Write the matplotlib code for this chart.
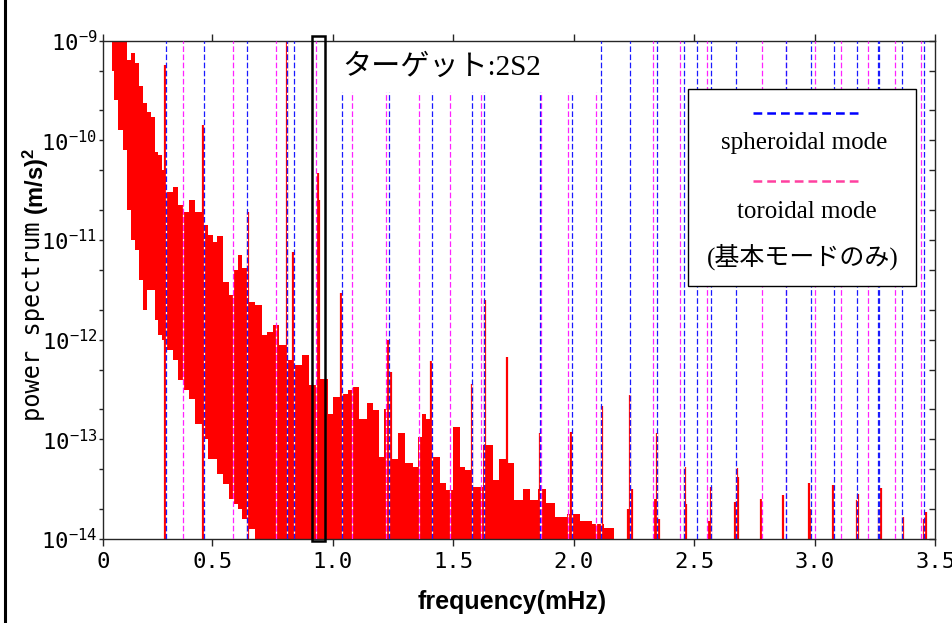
import numpy as np
import matplotlib
matplotlib.use('Agg')
import matplotlib.pyplot as plt
from matplotlib.ticker import LogLocator, NullFormatter
from matplotlib.patches import Rectangle
from matplotlib.lines import Line2D

# background of the spectrum: frequency (mHz), upper / lower edge (log10 power)
floor_f = [0.085, 0.100, 0.120, 0.140, 0.150, 0.172, 0.186, 0.205, 0.221, 0.234,
           0.255, 0.269, 0.283, 0.295, 0.324, 0.345, 0.373, 0.394, 0.414, 0.442,
           0.470, 0.497, 0.504, 0.532, 0.553, 0.581, 0.600, 0.615, 0.630, 0.660,
           0.695, 0.718, 0.738, 0.767, 0.788, 0.820, 0.857, 0.885, 0.920, 0.968,
           0.988, 1.016, 1.050, 1.072, 1.092, 1.127, 1.153, 1.181, 1.202, 1.220,
           1.264, 1.278, 1.320, 1.347, 1.361, 1.375, 1.395, 1.432, 1.459, 1.480,
           1.513, 1.540, 1.556, 1.597, 1.652, 1.681, 1.700, 1.735, 1.770, 1.804,
           1.832, 1.870, 1.902, 1.943, 2.000, 2.050, 2.100, 2.150, 2.180]
floor_hi = [-8.9, -8.9, -8.9, -8.9, -9.19, -9.12, -9.22, -9.45, -9.63, -9.72,
            -9.77, -10.12, -10.15, -10.30, -10.52, -10.47, -10.65, -10.72, -10.60, -10.72,
            -10.85, -10.95, -11.02, -10.96, -11.42, -11.55, -11.30, -11.15, -11.28, -11.62,
            -11.65, -11.95, -11.92, -11.85, -12.05, -12.20, -12.25, -12.15, -12.45, -12.39,
            -12.75, -12.58, -12.55, -12.50, -12.47, -12.80, -12.64, -12.71, -13.18, -12.70,
            -13.20, -12.94, -13.24, -13.28, -12.98, -12.75, -12.80, -13.18, -13.44, -13.51,
            -12.88, -13.28, -13.31, -13.48, -13.06, -13.41, -13.20, -13.24, -13.61, -13.50,
            -13.61, -13.50, -13.64, -13.78, -13.75, -13.82, -13.85, -13.89, -14.20]
floor_lo = [-9.3, -9.6, -9.9, -10.1, -10.7, -11.0, -11.1, -11.4, -11.7, -11.5,
            -11.5, -11.8, -11.95, -12.0, -12.1, -12.2, -12.4, -12.5, -12.6, -12.85,
            -13.0, -13.2, -13.2, -13.35, -13.45, -13.6, -13.65, -13.7, -13.8, -13.9] + [-14.2] * 49

# spectral peaks: frequency (mHz), log10 power
peak_f = [0.303, 0.462, 0.647, 0.808, 0.836, 0.938, 0.944, 1.034, 1.230, 1.243,
          1.407, 1.576, 1.632, 1.721, 1.860, 1.988, 2.116, 2.225, 2.233, 2.240,
          2.338, 2.345, 2.352, 2.460, 2.465, 2.562, 2.568, 2.670, 2.676, 2.682,
          2.777, 2.868, 2.976, 2.980, 3.074, 3.175, 3.180, 3.268, 3.273, 3.365,
          3.455, 3.461]
peak_v = [-9.24, -9.85, -10.72, -8.9, -11.12, -10.33, -10.6, -11.53, -12.00, -12.32,
          -12.21, -12.44, -11.60, -12.17, -12.94, -12.93, -12.67, -13.7, -12.56, -13.5,
          -13.6, -12.94, -13.8, -13.28, -13.65, -13.82, -13.48, -13.63, -13.29, -13.38,
          -13.6, -13.56, -13.44, -13.7, -13.46, -13.61, -13.55, -13.7, -13.49, -13.78,
          -13.8, -13.73]

# fundamental mode frequencies (mHz)
spheroidal = [0.308, 0.466, 0.644, 0.811, 0.838, 1.037, 1.232, 1.413, 1.579, 1.629,
              1.860, 1.993, 2.112, 2.231, 2.345, 2.457, 2.511, 2.569, 2.673, 2.880,
              2.984, 3.080, 3.174, 3.264, 3.268, 3.362, 3.453]
toroidal = [0.377, 0.585, 0.764, 0.930, 1.078, 1.221, 1.357, 1.486, 1.615, 1.862,
            1.975, 2.093, 2.329, 2.441, 2.553, 2.781, 2.882, 3.000, 3.109, 3.221,
            3.333, 3.439]

xtick_vals = [0.046, 0.5, 1.0, 1.5, 2.0, 2.5, 3.0, 3.5]
xtick_labels = ['0', '0.5', '1.0', '1.5', '2.0', '2.5', '3.0', '3.5']
ytick_vals = [1e-14, 1e-13, 1e-12, 1e-11, 1e-10, 1e-9]
ytick_labels = [r'$\mathregular{10^{%d}}$' % e for e in range(-14, -8)]

target = [0.912, 0.969]

W, H = 953, 623
mono = 'DejaVu Sans Mono'
fig = plt.figure(figsize=(W / 100, H / 100), dpi=100)
ax = fig.add_axes([103 / W, 1 - 539 / H, (935.3 - 103) / W, (539 - 40.7) / H])
ax.set_yscale('log')
ax.set_xlim(0.046, 3.5)
ax.set_ylim(1e-14, 1e-9)

# spectrum
ax.fill_between(floor_f, 10 ** np.array(floor_lo), 10 ** np.array(floor_hi),
                step='mid', color='#ff0000', lw=0, zorder=2)
ax.vlines(peak_f, 10 ** -14.2, 10 ** np.array(peak_v), color='#ff0000', lw=1.6, zorder=2)

# mode lines
def top_of(f):
    return 0.897 if 1.0 < f < 2.1 else 1.0

for f in toroidal:
    ax.axvline(f, 0, top_of(f), color='#ff22ff', lw=0.9, ls=(0, (4.5, 2)),
               gapcolor='white', zorder=3)
for f in spheroidal:
    ax.axvline(f, 0, top_of(f), color='#1a1aff', lw=0.9, ls=(0, (4.5, 2)),
               gapcolor='white', zorder=3)

# target box
ax.add_patch(Rectangle((target[0], -0.005), target[1] - target[0], 1.014,
                       transform=ax.get_xaxis_transform(), fill=False,
                       ec='black', lw=1.8, clip_on=False, zorder=6))
ax.text(0.288, 0.947, 'ターゲット:2S2', transform=ax.transAxes, ha='left', va='center',
        family=['Liberation Serif', 'Noto Sans CJK JP'], fontsize=21, zorder=6)

# legend box
ax.add_patch(Rectangle((0.703, 0.508), 0.274, 0.395, transform=ax.transAxes,
                       fc='white', ec='black', lw=1.0, zorder=7))
ax.add_line(Line2D([0.781, 0.908], [0.855, 0.855], transform=ax.transAxes,
                   color='#0000ff', lw=1.8, ls=(0, (3.5, 2.0)), zorder=8))
ax.add_line(Line2D([0.781, 0.908], [0.718, 0.718], transform=ax.transAxes,
                   color='#ff40a0', lw=1.8, ls=(0, (3.5, 2.0)), zorder=8))
leg_font = ['Liberation Serif', 'Noto Sans CJK JP']
ax.text(0.842, 0.795, 'spheroidal mode', transform=ax.transAxes, ha='center', va='center',
        family=leg_font, fontsize=18, zorder=8)
ax.text(0.846, 0.656, 'toroidal mode', transform=ax.transAxes, ha='center', va='center',
        family=leg_font, fontsize=18, zorder=8)
ax.text(0.841, 0.566, '(基本モードのみ)', transform=ax.transAxes, ha='center', va='center',
        family=leg_font, fontsize=18, zorder=8)

# axes styling
for s in ax.spines.values():
    s.set_color('#262626')
    s.set_linewidth(1.0)
ax.set_xticks(xtick_vals)
ax.set_xticklabels(xtick_labels, family=mono, fontsize=16)
ax.set_yticks(ytick_vals)
ax.set_yticklabels(ytick_labels, family=mono, fontsize=16)
ax.yaxis.set_minor_locator(LogLocator(base=10, subs=(2.0, 5.0)))
ax.yaxis.set_minor_formatter(NullFormatter())
ax.tick_params(axis='x', which='both', top=True, bottom=True, direction='out',
               length=5, width=1.0, color='#262626', pad=4)
ax.tick_params(axis='y', which='both', left=True, right=False, direction='out',
               length=3, width=1.0, color='#262626', pad=1)

ax2 = ax.twinx()
ax2.set_yscale('log')
ax2.set_ylim(1e-14, 1e-9)
ax2.yaxis.set_major_locator(LogLocator(base=10, subs=(1.0,)))
ax2.yaxis.set_minor_locator(LogLocator(base=10, subs=(2.0, 5.0)))
ax2.yaxis.set_minor_formatter(NullFormatter())
ax2.tick_params(axis='y', which='both', direction='in', length=4, width=1.0,
                color='#262626', labelright=False)
for s in ax2.spines.values():
    s.set_visible(False)

# axis labels
fig.text(33 / W, 1 - 321 / H, 'power spectrum', rotation=90, ha='center', va='center',
         family=mono, fontsize=17)
fig.text(36 / W, 1 - 181 / H, r'(m/s)$\mathregular{^2}$', rotation=90, ha='center',
         va='center', family='Liberation Sans', weight='bold', fontsize=17)
fig.text(512 / W, 1 - 602 / H, 'frequency(mHz)', ha='center', va='center',
         family='Liberation Sans', weight='bold', fontsize=18)

# frame line on the left edge
fig.add_artist(Line2D([5 / W, 5 / W], [0, 1], transform=fig.transFigure,
                      color='black', lw=2.2))

fig.savefig('out.png', dpi=100)
